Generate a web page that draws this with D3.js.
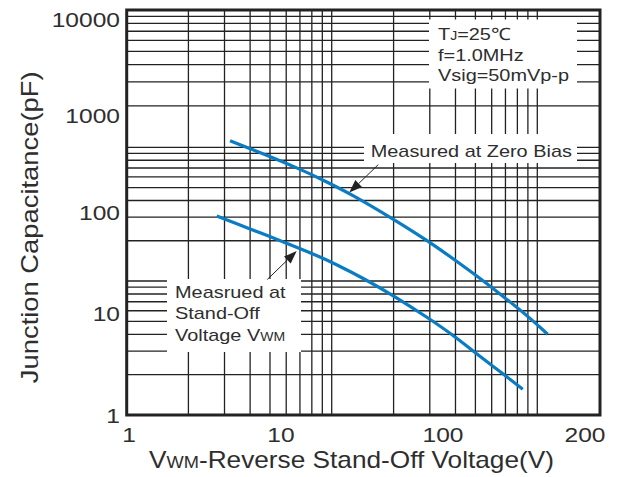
<!DOCTYPE html>
<html>
<head>
<meta charset="utf-8">
<script src="https://cdn.jsdelivr.net/npm/d3@7"></script>
<style>
  html, body { margin: 0; padding: 0; background: #fff; }
  svg { display: block; }
  text { font-family: "Liberation Sans", Arial, Helvetica, sans-serif; fill: #2e2e2e; }
</style>
</head>
<body>
<svg id="chart" width="622" height="477"></svg>
<script>
// ---- data ----
const xTickValues = [1, 10, 100, 200];
const xTickLabels = ["1", "10", "100", "200"];
const yTickValues = [1, 10, 100, 1000, 10000];
const yTickLabels = ["1", "10", "100", "1000", "10000"];

// Capacitance at zero bias (V, pF)
const zeroBiasV  = [4.62, 7.27, 13.1, 17.4, 26.7, 50.5, 80.8, 106, 121.6, 136.7, 152.9, 166.7];
const zeroBiasPF = [545, 412, 279, 223, 157, 84.2, 52.2, 33.8, 21.2, 13.7, 8.99, 6.22];

// Capacitance measured at stand-off voltage VWM (V, pF)
const standOffV  = [3.78, 5.37, 7.27, 10.6, 13.1, 17.4, 21.0, 33.8, 49.3, 83.1, 106, 117.9, 132.1, 147.6];
const standOffPF = [92.3, 75.2, 62.9, 50.4, 43.9, 36.2, 31.6, 21.4, 15.0, 8.79, 5.91, 3.98, 2.68, 1.79];

// Printed log-paper grid: minor/major line values
const gridX = [2,3,4,5,6,7,8,9,10,20,30,40,50,60,70,80,90,100];
const gridY = [2,3,4,5,6,7,8,9,10,20,30,40,50,60,70,80,90,100,200,300,400,500,600,700,800,900];

// ---- layout ----
const svg = d3.select("#chart");
const plot = { left: 126.7, right: 600, top: 10, bottom: 415 };
const ink = "#222";
const blue = "#0a7cc4";

// Value scales (ticks + curves)
const x = d3.scaleLog().domain(xTickValues).range([129, 281, 443, 585]);
const y = d3.scaleLog().domain(yTickValues).range([415, 313.3, 212.5, 115, 19]);

// Scales of the ruled log paper underneath
const gx = d3.scaleLog().domain([1, 10, 100, 200]).range([plot.left, 331.7, 537.3, plot.right]);
const gy = d3.scaleLog().domain([1, 10, 100, 1000]).range([plot.bottom, 281, 147.3, plot.top]);

svg.append("rect").attr("width", 622).attr("height", 477).attr("fill", "#fff");

const grid = svg.append("g").attr("stroke", ink).attr("stroke-width", 1.3);
grid.selectAll("line.vx").data(gridX).join("line")
  .attr("x1", d => gx(d)).attr("x2", d => gx(d))
  .attr("y1", plot.top).attr("y2", plot.bottom);
grid.selectAll("line.hy").data(gridY).join("line")
  .attr("y1", d => gy(d)).attr("y2", d => gy(d))
  .attr("x1", plot.left).attr("x2", plot.right);

// White label panels that interrupt the grid
const panels = [
  { x: 429, y: 19.5, w: 148, h: 69 },
  { x: 364, y: 134, w: 213, h: 29 },
  { x: 167, y: 279, w: 134, h: 73 }
];
svg.append("g").selectAll("rect").data(panels).join("rect")
  .attr("x", d => d.x).attr("y", d => d.y).attr("width", d => d.w).attr("height", d => d.h)
  .attr("fill", "#fff");

// Frame
svg.append("rect")
  .attr("x", plot.left).attr("y", plot.top)
  .attr("width", plot.right - plot.left).attr("height", plot.bottom - plot.top)
  .attr("fill", "none").attr("stroke", ink).attr("stroke-width", 3);

// Curves
const line = d3.line().x(d => x(d[0])).y(d => y(d[1])).curve(d3.curveBasis);
const series = [d3.zip(zeroBiasV, zeroBiasPF), d3.zip(standOffV, standOffPF)];
svg.append("g").selectAll("path").data(series).join("path")
  .attr("d", line)
  .attr("fill", "none").attr("stroke", blue).attr("stroke-width", 3.2)
  .attr("stroke-linecap", "butt");

// Arrows pointing at the curves
function arrow(tipV, tipC, dx, dy) {
  const tx = x(tipV), ty = y(tipC);
  const sx = tx + dx, sy = ty + dy;
  const len = Math.hypot(dx, dy), ux = -dx / len, uy = -dy / len;
  const hl = 13, hw = 4.8;
  const bx = tx - ux * hl, by = ty - uy * hl;
  const g = svg.append("g");
  g.append("line").attr("x1", sx).attr("y1", sy).attr("x2", bx).attr("y2", by)
    .attr("stroke", ink).attr("stroke-width", 1);
  g.append("polygon")
    .attr("points", [[tx, ty], [bx - uy * hw, by + ux * hw], [bx + uy * hw, by - ux * hw]].map(p => p.join(",")).join(" "))
    .attr("fill", ink);
}
arrow(26.4, 160, 29, -28);
arrow(12.5, 41.5, -29.4, 28.5);

// Text helper: horizontally widened text anchored at (px, py)
function label(px, py, parts, size, sx, anchor, rotate) {
  const g = svg.append("g")
    .attr("transform", `translate(${px},${py})` + (rotate ? ` rotate(${rotate})` : "") + ` scale(${sx},1)`);
  const t = g.append("text").attr("text-anchor", anchor || "start").style("font-size", size + "px");
  (Array.isArray(parts) ? parts : [[parts, size]]).forEach(([s, fs]) => {
    t.append("tspan").text(s).style("font-size", fs + "px");
  });
  return t;
}

// Tick labels
yTickValues.forEach((v, i) => label(120, y(v) + 7.5, yTickLabels[i], 21, 1.17, "end"));
xTickValues.forEach((v, i) => label(x(v), 442, xTickLabels[i], 21, 1.17, "middle"));

// Axis titles
label(351.5, 468, [["V", 23], ["WM", 16], ["-Reverse Stand-Off Voltage(V)", 23]], 23, 1.14, "middle");
label(37.5, 227.3, "Junction Capacitance(pF)", 23, 1.19, "middle", -90);

// Test conditions
label(438, 40, [["T", 17], ["J", 12], ["=25℃", 17]], 17, 1.17, "start");
label(438, 61, "f=1.0MHz", 17, 1.17, "start");
label(438, 80.7, "Vsig=50mVp-p", 17, 1.17, "start");

// Curve annotations
label(370.7, 156.7, "Measured at Zero Bias", 17, 1.17, "start");
label(175, 297.5, "Measrued at", 17, 1.17, "start");
label(175, 319, "Stand-Off", 17, 1.17, "start");
label(175, 340.5, [["Voltage V", 17], ["WM", 12]], 17, 1.17, "start");
</script>
</body>
</html>
